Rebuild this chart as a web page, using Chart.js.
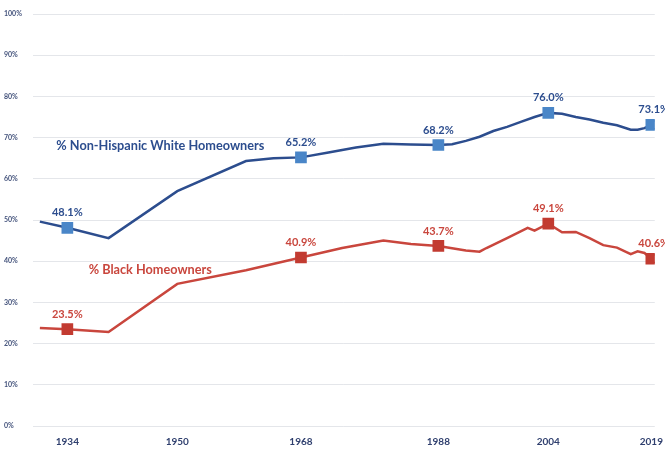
<!DOCTYPE html>
<html>
<head>
<meta charset="utf-8">
<script src="https://cdn.jsdelivr.net/npm/chart.js@4"></script>
<style>
  html, body { margin: 0; padding: 0; background: #fff; }
  #wrap { width: 665px; height: 449px; }
</style>
</head>
<body>
<div id="wrap"><canvas id="myChart" width="665" height="449"></canvas></div>
<script>
// years and values
const whiteYears = [1930, 1934, 1940, 1950, 1960, 1964, 1968, 1972, 1976, 1980, 1984, 1988, 1990, 1992, 1994, 1996, 1998, 2000, 2002, 2004, 2006, 2008, 2010, 2012, 2014, 2016, 2017, 2018, 2019];
const whiteValues = [49.6, 48.1, 45.6, 57.0, 64.3, 65.0, 65.2, 66.4, 67.6, 68.5, 68.3, 68.2, 68.4, 69.2, 70.2, 71.6, 72.6, 73.8, 75.0, 76.0, 75.8, 75.0, 74.4, 73.6, 73.0, 71.9, 71.9, 72.3, 73.1];

const blackYears = [1930, 1934, 1940, 1950, 1960, 1968, 1974, 1980, 1984, 1988, 1992, 1994, 1995, 1998, 2001, 2002, 2004, 2006, 2008, 2010, 2012, 2014, 2016, 2017, 2018, 2019];
const blackValues = [23.8, 23.5, 22.8, 34.5, 37.8, 40.9, 43.2, 45.0, 44.2, 43.7, 42.6, 42.3, 43.2, 45.6, 48.1, 47.4, 49.1, 47.0, 47.1, 45.6, 43.9, 43.3, 41.7, 42.4, 42.0, 40.6];

const markerYears = [1934, 1968, 1988, 2004, 2019];
const xTicks = [1934, 1950, 1968, 1988, 2004, 2019];
const yTicks = [0, 10, 20, 30, 40, 50, 60, 70, 80, 90, 100];

const whiteName = "% Non-Hispanic White Homeowners";
const blackName = "% Black Homeowners";

const navy = "#2c4d8e";
const blueMark = "#4a86c8";
const red = "#c9463d";
const redMark = "#c23b31";

function toPoints(xs, ys) {
  return xs.map((x, i) => ({ x: x, y: ys[i] }));
}

const isMarker = ctx => ctx.raw && markerYears.includes(ctx.raw.x);

const labelPlugin = {
  id: "labels",
  afterDatasetsDraw(chart) {
    const c = chart.ctx;
    const xs = chart.scales.x, ys = chart.scales.y;
    c.save();
    c.textBaseline = "middle";
    chart.data.datasets.forEach(ds => {
      c.fillStyle = ds.borderColor;
      c.font = "bold 11px Lato";
      ds.data.forEach(p => {
        if (!markerYears.includes(p.x)) return;
        let px = xs.getPixelForValue(p.x);
        const py = ys.getPixelForValue(p.y) - 15;
        c.textAlign = "center";
        if (p.x === 2019) { c.textAlign = "left"; px = px - 13; }
        c.fillText(p.y.toFixed(1) + "%", px, py);
      });
      c.font = "bold 12.7px Lato";
      c.textAlign = "left";
      c.fillText(ds.label, xs.getPixelForValue(ds.nameAt[0]), ys.getPixelForValue(ds.nameAt[1]));
    });
    c.restore();
  }
};

new Chart(document.getElementById("myChart"), {
  type: "line",
  data: {
    datasets: [
      {
        label: whiteName,
        nameAt: [1932.4, 68.0],
        data: toPoints(whiteYears, whiteValues),
        borderColor: navy,
        borderWidth: 2.5,
        pointStyle: "rect",
        pointBackgroundColor: blueMark,
        pointBorderColor: blueMark,
        pointRadius: ctx => isMarker(ctx) ? 6.5 : 0,
        tension: 0
      },
      {
        label: blackName,
        nameAt: [1937.1, 38.0],
        data: toPoints(blackYears, blackValues),
        borderColor: red,
        borderWidth: 2.5,
        pointStyle: "rect",
        pointBackgroundColor: redMark,
        pointBorderColor: redMark,
        pointRadius: ctx => isMarker(ctx) ? 6.5 : 0,
        tension: 0
      }
    ]
  },
  options: {
    responsive: false,
    animation: false,
    layout: { padding: { top: 14, right: 10, left: 4, bottom: 0 } },
    plugins: { legend: { display: false }, tooltip: { enabled: false } },
    scales: {
      x: {
        type: "linear",
        min: 1929,
        max: 2019.5,
        afterBuildTicks: axis => { axis.ticks = xTicks.map(v => ({ value: v })); },
        afterFit: axis => { axis.height = 23; },
        grid: { display: false },
        border: { display: false },
        ticks: {
          autoSkip: false,
          maxRotation: 0,
          padding: 2,
          color: "#2f3f6e",
          font: { family: "Lato", weight: "bold", size: 10 },
          callback: v => String(v)
        }
      },
      y: {
        min: 0,
        max: 100,
        afterBuildTicks: axis => { axis.ticks = yTicks.map(v => ({ value: v })); },
        afterFit: axis => { axis.width = 29; },
        grid: { color: "#e4e6ea", lineWidth: 1, drawTicks: false },
        border: { display: false },
        ticks: {
          crossAlign: "far",
          padding: 6,
          color: "#44537c",
          font: { family: "Lato", weight: "bold", size: 7 },
          callback: v => v + "%"
        }
      }
    }
  },
  plugins: [labelPlugin]
});
</script>
</body>
</html>
